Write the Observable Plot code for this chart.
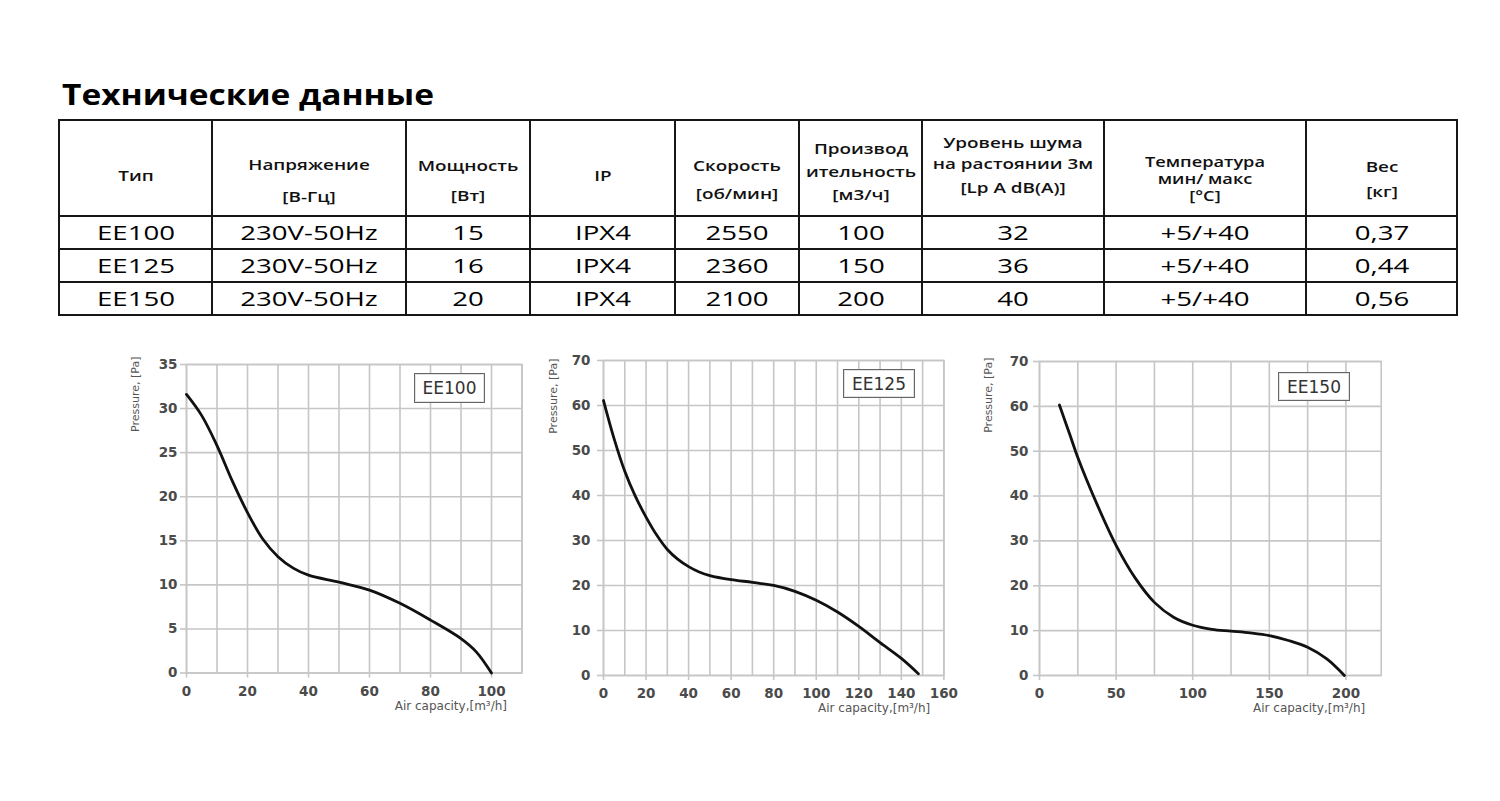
<!DOCTYPE html>
<html>
<head>
<meta charset="utf-8">
<script src="https://cdn.jsdelivr.net/npm/d3@7"></script>
<script src="https://cdn.jsdelivr.net/npm/@observablehq/plot@0.6"></script>
<style>
  body { margin: 0; background: #fff; }
  #page { position: relative; width: 1500px; height: 801px; overflow: hidden; background: #fff;
          font-family: "Open Sans", sans-serif; color: #111; }
  .cell-text { position: absolute; white-space: nowrap; line-height: 1;
               transform: translate(-50%, -50%) scaleX(1.38); }
  .cell-text.head { font-weight: 600; transform: translate(-50%, -50%) scaleX(1.3); }
  .rule { position: absolute; background: #161616; }
  .chart { position: absolute; }
  .key { position: absolute; box-sizing: border-box; border: 1.5px solid #666; background: #fff;
         box-shadow: inset 0 0 0 1px #e2e2e2;
         font-family: "DejaVu Sans", sans-serif; font-size: 17px; color: #333;
         display: flex; align-items: center; justify-content: center; }
  #title { position: absolute; white-space: nowrap; font-weight: 700; font-size: 28px; line-height: 28px;
           transform-origin: 0 50%; color: #000; }
</style>
</head>
<body>
<div id="page"></div>
<script>
// ---------- Technical data table ----------
const tableTitle = "Технические данные";
const headers = [
  ["Тип"],
  ["Напряжение", "[В-Гц]"],
  ["Мощность", "[Вт]"],
  ["IP"],
  ["Скорость", "[об/мин]"],
  ["Производ", "ительность", "[м3/ч]"],
  ["Уровень шума", "на растоянии 3м", "[Lp A dB(A)]"],
  ["Температура", "мин/ макс", "[°C]"],
  ["Вес", "[кг]"]
];
const models = ["EE100", "EE125", "EE150"];
const voltage = ["230V-50Hz", "230V-50Hz", "230V-50Hz"];
const power = [15, 16, 20];
const ipRating = ["IPX4", "IPX4", "IPX4"];
const speed = [2550, 2360, 2100];
const capacity = [100, 150, 200];
const noise = [32, 36, 40];
const temperature = ["+5/+40", "+5/+40", "+5/+40"];
const weight = ["0,37", "0,44", "0,56"];

// ---------- Fan curves: air capacity [m³/h] vs pressure [Pa] ----------
const ee100Flow     = [0, 5, 10, 15, 20, 25, 30, 35, 40, 50, 60, 70, 80, 90, 95, 100];
const ee100Pressure = [31.6, 29.2, 25.8, 21.8, 18.2, 15.2, 13.2, 11.9, 11.1, 10.3, 9.4, 7.9, 6.0, 3.9, 2.4, 0];

const ee125Flow     = [0, 5, 10, 15, 20, 25, 30, 35, 40, 45, 50, 60, 70, 80, 90, 100, 110, 120, 130, 140, 148];
const ee125Pressure = [61.1, 52.6, 45.4, 39.8, 35.2, 31.2, 28.0, 25.8, 24.2, 23.0, 22.2, 21.3, 20.7, 20.0, 18.7, 16.7, 14.1, 10.9, 7.3, 3.8, 0.4];

const ee150Flow     = [13, 20, 25, 37.5, 50, 62.5, 75, 87.5, 100, 112.5, 125, 137.5, 150, 162.5, 175, 187.5, 199];
const ee150Pressure = [60.3, 53.5, 48.6, 38.2, 29.0, 21.7, 16.3, 13.0, 11.2, 10.3, 9.9, 9.5, 8.9, 7.8, 6.3, 3.7, 0];

const ee100XTicks = [0, 20, 40, 60, 80, 100];
const ee100XGrid  = [0, 10, 20, 30, 40, 50, 60, 70, 80, 90, 100, 110];
const ee100YTicks = [0, 5, 10, 15, 20, 25, 30, 35];
const ee125XTicks = [0, 20, 40, 60, 80, 100, 120, 140, 160];
const ee125XGrid  = [0, 10, 20, 30, 40, 50, 60, 70, 80, 90, 100, 110, 120, 130, 140, 150, 160];
const ee125YTicks = [0, 10, 20, 30, 40, 50, 60, 70];
const ee150XTicks = [0, 50, 100, 150, 200];
const ee150XGrid  = [0, 25, 50, 75, 100, 125, 150, 175, 200];
const ee150YTicks = [0, 10, 20, 30, 40, 50, 60, 70];

const yTitle = "Pressure, [Pa]";
const xTitle = "Air capacity,[m³/h]";

// ---------- Page layout ----------
const page = document.getElementById("page");
const colEdges = [59, 212, 406, 530, 675, 799, 922, 1104, 1306, 1457];
const rowEdges = [120, 216, 249, 282, 315];
const headerLineY = [[176], [165, 197], [166, 196], [176], [166, 194], [149, 172, 195], [143, 164, 188], [162, 179, 196], [167, 192]];
const headerSize = [14.5, 14.5, 14.5, 14.5, 14.5, 14.5, 14.5, 14, 14.5];

function addText(txt, cx, cy, size, color, cls) {
  const d = document.createElement("div");
  d.className = "cell-text" + (cls ? " " + cls : "");
  d.textContent = txt;
  d.style.left = cx + "px";
  d.style.top = cy + "px";
  d.style.fontSize = size + "px";
  d.style.color = color;
  page.appendChild(d);
}

// title, fitted to its printed width
const title = document.createElement("div");
title.id = "title";
title.textContent = tableTitle;
title.style.left = "62px";
title.style.top = "80px";
page.appendChild(title);
const tw = title.getBoundingClientRect().width;
title.style.transform = `scaleX(${372 / tw})`;

// table rules
colEdges.forEach(x => {
  const r = document.createElement("div");
  r.className = "rule";
  Object.assign(r.style, {left: (x - 1) + "px", top: (rowEdges[0] - 1) + "px", width: "2px",
    height: (rowEdges[rowEdges.length - 1] - rowEdges[0] + 2) + "px"});
  page.appendChild(r);
});
rowEdges.forEach(y => {
  const r = document.createElement("div");
  r.className = "rule";
  Object.assign(r.style, {left: (colEdges[0] - 1) + "px", top: (y - 1) + "px", height: "2px",
    width: (colEdges[colEdges.length - 1] - colEdges[0] + 2) + "px"});
  page.appendChild(r);
});

const colCenter = i => (colEdges[i] + colEdges[i + 1]) / 2;
headers.forEach((lines, i) => {
  lines.forEach((ln, j) => addText(ln, colCenter(i), headerLineY[i][j], headerSize[i], "#111", "head"));
});
const rows = models.map((m, i) => [m, voltage[i], power[i], ipRating[i], speed[i], capacity[i], noise[i], temperature[i], weight[i]]);
rows.forEach((row, r) => {
  const cy = (rowEdges[r + 1] + rowEdges[r + 2]) / 2;
  row.forEach((v, i) => addText(String(v), colCenter(i), cy, 20, "#000"));
});

// ---------- Charts ----------
const gridColor = "#c6c6c6";
const M = {left: 80, right: 20, top: 20, bottom: 50};

function fanChart(cfg) {
  const pts = cfg.flow.map((f, i) => ({flow: f, pressure: cfg.pressure[i]}));
  const f = cfg.frame;
  const width = f.right - f.left + M.left + M.right;
  const height = f.bottom - f.top + M.top + M.bottom;
  const chart = Plot.plot({
    width, height,
    marginLeft: M.left, marginRight: M.right, marginTop: M.top, marginBottom: M.bottom,
    style: {fontFamily: "DejaVu Sans, sans-serif", fontSize: "13.5px", background: "transparent", overflow: "visible"},
    x: {domain: [0, cfg.xMax], label: null},
    y: {domain: [0, cfg.yMax], label: null},
    marks: [
      Plot.gridX(cfg.xGrid, {stroke: gridColor, strokeOpacity: 1, strokeWidth: 1.6}),
      Plot.gridY(cfg.yTicks, {stroke: gridColor, strokeOpacity: 1, strokeWidth: 1.6}),
      Plot.frame({stroke: gridColor, strokeWidth: 1.6}),
      Plot.axisX(cfg.xTicks, {tickSize: 5, tickPadding: 8, stroke: gridColor, strokeWidth: 1.6,
        fill: "#4a4a4a", fontWeight: "bold", label: null}),
      Plot.axisY(cfg.yTicks, {tickSize: 6, tickPadding: cfg.yPad, stroke: gridColor, strokeWidth: 1.6,
        fill: "#4a4a4a", fontWeight: "bold", label: null}),
      Plot.line(pts, {x: "flow", y: "pressure", curve: "catmull-rom", stroke: "#111", strokeWidth: 2.8}),
      Plot.text([yTitle], {text: d => d, frameAnchor: "top-left", rotate: -90, textAnchor: "end",
        dx: cfg.yTitleAt[0] - f.left, dy: cfg.yTitleAt[1] - f.top, fill: "#555", fontSize: 11}),
      Plot.text([xTitle], {text: d => d, frameAnchor: "bottom-right", textAnchor: "end",
        dx: cfg.xTitleAt[0] - f.right, dy: cfg.xTitleAt[1] - f.bottom, fill: "#555", fontSize: 12})
    ]
  });
  const box = document.createElement("div");
  box.className = "chart";
  box.style.left = (f.left - M.left) + "px";
  box.style.top = (f.top - M.top) + "px";
  box.appendChild(chart);
  page.appendChild(box);

  const key = document.createElement("div");
  key.className = "key";
  key.textContent = cfg.name;
  Object.assign(key.style, {left: cfg.key[0] + "px", top: cfg.key[1] + "px",
    width: (cfg.key[2] - cfg.key[0]) + "px", height: (cfg.key[3] - cfg.key[1]) + "px"});
  page.appendChild(key);
}

fanChart({name: models[0], flow: ee100Flow, pressure: ee100Pressure, xMax: 110, yMax: 35,
  xTicks: ee100XTicks, xGrid: ee100XGrid, yTicks: ee100YTicks, yPad: 3,
  frame: {left: 185.5, right: 521, top: 364, bottom: 672.5},
  yTitleAt: [130, 356], xTitleAt: [506, 709], key: [414, 373, 485, 403]});

fanChart({name: models[1], flow: ee125Flow, pressure: ee125Pressure, xMax: 160, yMax: 70,
  xTicks: ee125XTicks, xGrid: ee125XGrid, yTicks: ee125YTicks, yPad: 7,
  frame: {left: 603.3, right: 943.7, top: 360, bottom: 675},
  yTitleAt: [549, 358], xTitleAt: [930, 712], key: [843, 369, 915, 398]});

fanChart({name: models[2], flow: ee150Flow, pressure: ee150Pressure, xMax: 223, yMax: 70,
  xTicks: ee150XTicks, xGrid: ee150XGrid, yTicks: ee150YTicks, yPad: 5,
  frame: {left: 1039.3, right: 1381, top: 361, bottom: 675},
  yTitleAt: [984, 357], xTitleAt: [1365, 712], key: [1278, 372, 1350, 401]});
</script>
</body>
</html>
